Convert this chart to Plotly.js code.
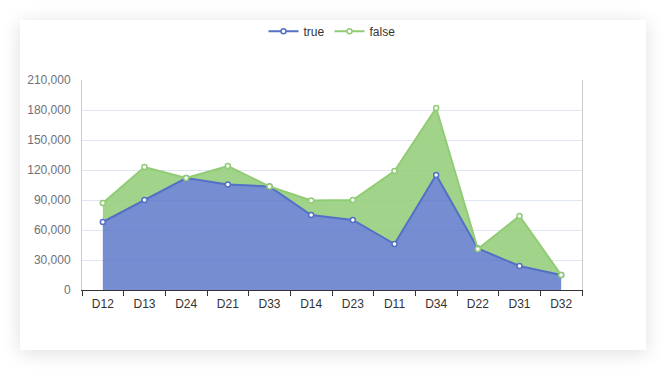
<!DOCTYPE html>
<html>
<head>
<meta charset="utf-8">
<script src="https://cdn.plot.ly/plotly-3.0.1.min.js"></script>
<style>
  html, body { margin: 0; padding: 0; background: #ffffff; width: 666px; height: 371px; overflow: hidden; }
  #card { position: absolute; left: 20px; top: 20px; width: 626px; height: 330px; background: #fff;
          box-shadow: 0 3px 18px rgba(0,0,0,0.13); }
  #chart { position: absolute; left: 0; top: -5px; width: 626px; height: 335px; }
</style>
</head>
<body>
<div id="card"><div id="chart"></div></div>
<script>
const categories = ["D12","D13","D24","D21","D33","D14","D23","D11","D34","D22","D31","D32"];
const trueValues = [68000, 90000, 112000, 105500, 103500, 75000, 70000, 46000, 115000, 41500, 24000, 15000];
const falseValues = [87000, 123000, 112000, 124000, 103500, 89500, 90000, 119000, 182000, 41000, 74000, 15000];
const yTicks = [0, 30000, 60000, 90000, 120000, 150000, 180000, 210000];
const yTickLabels = ["0","30,000","60,000","90,000","120,000","150,000","180,000","210,000"];

const blue = "#5470c6", green = "#91cc75";

const traces = [
  // area fills (no legend)
  {
    type: "scatter", mode: "none", name: "true", showlegend: false, hoverinfo: "skip",
    x: categories, y: trueValues,
    fill: "tozeroy", fillcolor: "rgba(84,112,198,0.8)"
  },
  {
    type: "scatter", mode: "none", name: "false", showlegend: false, hoverinfo: "skip",
    x: categories, y: falseValues,
    fill: "tonexty", fillcolor: "rgba(145,204,117,0.85)"
  },
  // lines + markers (legend)
  {
    type: "scatter", mode: "lines+markers", name: "true",
    x: categories, y: trueValues,
    line: { color: blue, width: 2 },
    marker: { symbol: "circle", size: 5, color: "#fff", line: { color: blue, width: 1.5 } }
  },
  {
    type: "scatter", mode: "lines+markers", name: "false",
    x: categories, y: falseValues,
    line: { color: green, width: 2 },
    marker: { symbol: "circle", size: 5, color: "#fff", line: { color: green, width: 1.5 } }
  }
];

const layout = {
  width: 626, height: 335,
  margin: { l: 62, r: 64, t: 65, b: 60 },
  paper_bgcolor: "rgba(0,0,0,0)", plot_bgcolor: "#fff",
  font: { family: "Liberation Sans, Arial, sans-serif", size: 12, color: "#333" },
  showlegend: true,
  legend: {
    orientation: "h", x: 0.5, xanchor: "center", y: 0.995, yanchor: "top",
    yref: "container", traceorder: "normal",
    font: { size: 12, color: "#333" }, itemwidth: 30, tracegroupgap: 0,
    bgcolor: "rgba(0,0,0,0)"
  },
  xaxis: {
    type: "category", tickson: "boundaries", ticks: "outside", ticklen: 5, tickcolor: "#333",
    showline: true, linecolor: "#333", linewidth: 1, showgrid: false, zeroline: false,
    ticklabelstandoff: 3,
    tickfont: { size: 12, color: "#333" }, range: [-0.5, 11.5], fixedrange: true
  },
  yaxis: {
    range: [0, 210000], tickvals: yTicks, ticktext: yTickLabels,
    showgrid: true, gridcolor: "#e0e6f1", gridwidth: 1,
    showline: true, linecolor: "#cccccc", mirror: true, zeroline: false,
    ticks: "", ticklabelstandoff: 8,
    tickfont: { size: 12, color: "#6e7079" }, fixedrange: true
  }
};

Plotly.newPlot("chart", traces, layout, { displayModeBar: false, staticPlot: true });
</script>
</body>
</html>
